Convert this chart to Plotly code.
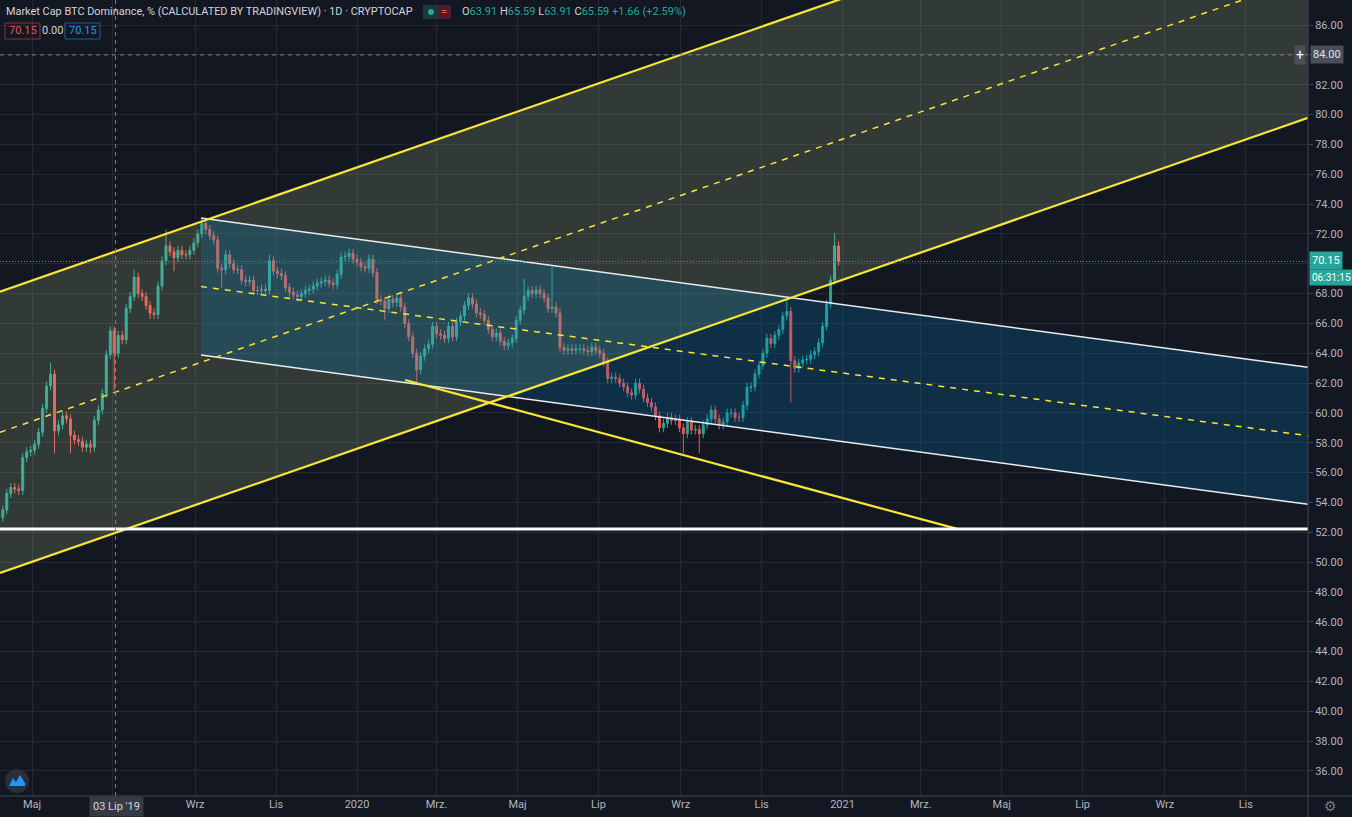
import plotly.graph_objects as go
import pandas as pd

# ---------------- data ----------------
candle_start = "2019-04-09"          # 3-day bars
first_open = 53.0
closes = [
    53.5, 54.6, 55.0, 54.9, 54.8, 57.0, 57.4, 57.5, 57.9, 58.7,
    60.3, 61.8, 62.6, 58.8, 59.2, 59.8, 59.6, 58.5, 58.2, 58.1,
    57.7, 57.9, 57.7, 59.5, 60.2, 61.3, 63.9, 65.5, 64.0, 65.2,
    64.9, 67.0, 67.8, 69.1, 68.0, 67.8, 67.2, 66.7, 66.6, 68.5,
    70.2, 71.2, 70.8, 70.4, 70.9, 70.6, 70.6, 70.9, 71.4, 72.0,
    72.7, 72.3, 71.9, 71.6, 69.7, 69.6, 70.6, 70.0, 69.6, 69.6,
    68.9, 68.8, 68.9, 68.2, 68.2, 68.3, 68.2, 70.2, 69.5, 69.35,
    69.2, 68.4, 68.1, 67.9, 67.8, 68.0, 68.2, 68.3, 68.5, 68.7,
    68.8, 68.9, 68.7, 68.6, 69.3, 70.45, 70.5, 70.7, 70.3, 70.1,
    69.8, 69.7, 70.3, 69.4, 67.6, 67.5, 67.0, 67.6, 67.4, 67.7,
    67.1, 66.0, 65.1, 64.0, 62.9, 63.8, 64.3, 64.6, 65.8, 65.3,
    65.2, 65.0, 65.8, 65.1, 66.1, 66.5, 67.2, 67.7, 67.3, 66.7,
    66.6, 66.2, 65.6, 65.1, 65.35, 64.8, 64.5, 64.7, 65.0, 66.2,
    66.9, 67.8, 68.2, 68.0, 68.25, 68.0, 67.7, 67.0, 67.1, 66.7,
    64.4, 64.2, 64.3, 64.2, 64.3, 64.3, 64.2, 64.1, 64.4, 64.2,
    64.0, 63.4, 62.3, 62.4, 62.3, 62.0, 61.75, 61.35, 61.2, 62.0,
    61.6, 61.0, 60.7, 60.4, 59.8, 59.0, 59.3, 59.7, 59.5, 59.6,
    59.0, 58.6, 59.4, 58.85, 58.9, 58.6, 59.2, 59.6, 60.2, 59.6,
    59.2, 59.4, 60.0, 60.0, 59.7, 59.7, 60.5, 61.7, 61.75, 62.6,
    63.2, 64.0, 65.0, 64.65, 65.2, 65.6, 66.5, 66.8, 63.5, 63.0,
    63.35, 63.55, 63.6, 63.9, 64.1, 64.7, 65.8, 67.3, 68.9, 71.2,
    70.15,
]
default_wick = 0.3
high_spikes = {12: 63.35, 33: 69.6, 41: 72.3, 50: 73.05, 67: 70.6, 117: 68.0,
               131: 69.0, 138: 69.8, 197: 67.6, 209: 72.05}
low_spikes = {13: 57.3, 17: 57.3, 22: 57.3, 28: 61.5, 37: 66.3, 43: 69.5, 55: 68.4,
              96: 66.2, 104: 62.1, 171: 57.3, 175: 57.3, 198: 60.7}

# drawings (date, value) anchors
ych_dates = ["2019-04-06 21:00", "2021-12-17 21:00"]
ych_upper = [68.13, 98.64]
ych_lower = [49.27, 79.78]
ych_mid = [58.70, 89.21]

bch_dates = ["2019-09-05 09:00", "2021-12-17 21:00"]
bch_upper = [73.06, 63.06]
bch_lower = [63.88, 53.87]
bch_mid = [68.47, 58.47]

support_dates = ["2020-02-06 05:00", "2021-03-27 19:00"]
support_vals = [62.21, 52.24]

hline_val = 52.22
last_price = 70.15
cross_date = "2019-07-03"
cross_val = 84.0

x_range = ["2019-04-06 21:00", "2021-12-17 21:00"]
y_range = [34.32, 87.68]

xtick_dates = ["2019-05-01", "2019-07-01", "2019-09-01", "2019-11-01", "2020-01-01",
               "2020-03-01", "2020-05-01", "2020-07-01", "2020-09-01", "2020-11-01",
               "2021-01-01", "2021-03-01", "2021-05-01", "2021-07-01", "2021-09-01",
               "2021-11-01"]
xtick_text = ["Maj", "", "Wrz", "Lis", "2020", "Mrz.", "Maj", "Lip", "Wrz", "Lis",
              "2021", "Mrz.", "Maj", "Lip", "Wrz", "Lis"]
ytick_vals = list(range(36, 88, 2))
ytick_hidden = [70, 84]   # covered by the last-price and crosshair labels

# ---------------- build ----------------
BG = "#131722"
GRID = "#242833"
TXT = "#b2b5be"
UP = "#26a69a"
DN = "#ef5350"
YEL = "#f9e537"

PW, PH = 1308.0, 796.0


def px(x):
    return x / PW


def py(y):
    return 1 - y / PH


dates = pd.date_range(candle_start, periods=len(closes), freq="3D")
opens = [first_open] + closes[:-1]
highs, lows = [], []
for i, (o, c) in enumerate(zip(opens, closes)):
    highs.append(high_spikes.get(i, max(o, c) + default_wick))
    lows.append(low_spikes.get(i, min(o, c) - default_wick))

fig = go.Figure()

fig.add_trace(go.Candlestick(
    x=dates, open=opens, high=highs, low=lows, close=closes,
    increasing=dict(line=dict(color=UP, width=1), fillcolor=UP),
    decreasing=dict(line=dict(color=DN, width=1), fillcolor=DN),
    whiskerwidth=0, hoverinfo="skip", showlegend=False,
))

# yellow channel fill
fig.add_trace(go.Scatter(
    x=ych_dates + ych_dates[::-1], y=ych_upper + ych_lower[::-1],
    fill="toself", fillcolor="rgba(184,213,154,0.19)", line=dict(width=0),
    mode="lines", hoverinfo="skip", showlegend=False))
# blue channel fill
fig.add_trace(go.Scatter(
    x=bch_dates + bch_dates[::-1], y=bch_upper + bch_lower[::-1],
    fill="toself", fillcolor="rgba(0,135,205,0.21)", line=dict(width=0),
    mode="lines", hoverinfo="skip", showlegend=False))


def line(xs, ys, color, width, dash="solid"):
    fig.add_trace(go.Scatter(x=xs, y=ys, mode="lines",
                             line=dict(color=color, width=width, dash=dash),
                             hoverinfo="skip", showlegend=False))


line(bch_dates, bch_upper, "#e8ecf0", 1.5)
line(bch_dates, bch_lower, "#e8ecf0", 1.5)
line(bch_dates, bch_mid, YEL, 1.5, "6px,6px")
line(ych_dates, ych_upper, YEL, 2.2)
line(ych_dates, ych_lower, YEL, 2.2)
line(ych_dates, ych_mid, YEL, 1.5, "6px,6px")
line(support_dates, support_vals, YEL, 2.2)
line(x_range, [hline_val, hline_val], "#ffffff", 3)
line(x_range, [last_price, last_price], UP, 1, "1px,2px")
line(x_range, [cross_val, cross_val], "#758696", 1, "4px,4px")
line([cross_date, cross_date], y_range, "#758696", 1, "4px,4px")

shapes = []
# axis separators
shapes.append(dict(type="line", xref="paper", yref="paper", x0=1, x1=1, y0=py(817), y1=1,
                   line=dict(color="#434651", width=1)))
shapes.append(dict(type="line", xref="paper", yref="paper", x0=0, x1=px(1352), y0=0, y1=0,
                   line=dict(color="#434651", width=1)))
# header pill
shapes.append(dict(type="rect", xref="paper", yref="paper", x0=px(423), x1=px(437),
                   y0=py(19), y1=py(5), fillcolor="#1a3a3a", line=dict(width=0)))
shapes.append(dict(type="rect", xref="paper", yref="paper", x0=px(437), x1=px(451),
                   y0=py(19), y1=py(5), fillcolor="#4a1e33", line=dict(width=0)))
shapes.append(dict(type="circle", xref="paper", yref="paper", x0=px(428), x1=px(434),
                   y0=py(15), y1=py(9), fillcolor=UP, line=dict(width=0)))
# header value boxes
shapes.append(dict(type="rect", xref="paper", yref="paper", x0=px(5), x1=px(40),
                   y0=py(39), y1=py(23), fillcolor="rgba(0,0,0,0)",
                   line=dict(color="#9c2b36", width=1)))
shapes.append(dict(type="rect", xref="paper", yref="paper", x0=px(65), x1=px(100),
                   y0=py(39), y1=py(23), fillcolor="rgba(0,0,0,0)",
                   line=dict(color="#1c5e9a", width=1)))
# logo circle
shapes.append(dict(type="circle", xref="paper", yref="paper", x0=px(5), x1=px(29),
                   y0=py(793), y1=py(769), fillcolor="#2a2e39", line=dict(width=0)))


def pp(pts):
    return "M " + " L ".join(f"{px(a):.5f},{py(b):.5f}" for a, b in pts) + " Z"


shapes.append(dict(type="path", xref="paper", yref="paper",
                   path=pp([(9, 786), (13, 778), (16, 782), (20, 775), (25, 783), (25, 786)]),
                   fillcolor="#2196f3", line=dict(width=0)))

ann = []


def text(x, y, s, size=11, color=TXT, xa="left", ya="middle", bg=None, family="Roboto", pad=1):
    d = dict(x=px(x), y=py(y), xref="paper", yref="paper", text=s, showarrow=False,
             xanchor=xa, yanchor=ya, font=dict(size=size, color=color, family=family))
    if bg:
        d.update(bgcolor=bg, borderpad=pad)
    ann.append(d)


text(4, 12, "Market Cap BTC Dominance, % (CALCULATED BY TRADINGVIEW) · 1D · CRYPTOCAP",
     size=10.9, color="#d1d4dc")
text(444, 11.5, "=", size=11, color="#ef5350", xa="center")
lbl = "#d1d4dc"
ohlc = (f"<span style='color:{lbl}'>O</span><span style='color:{UP}'>63.91</span> "
        f"<span style='color:{lbl}'>H</span><span style='color:{UP}'>65.59</span> "
        f"<span style='color:{lbl}'>L</span><span style='color:{UP}'>63.91</span> "
        f"<span style='color:{lbl}'>C</span><span style='color:{UP}'>65.59</span> "
        f"<span style='color:{UP}'>+1.66 (+2.59%)</span>")
text(460, 12, ohlc, size=11)
text(22.5, 31, "70.15", size=11, color="#ef5350", xa="center")
text(52.5, 31, "0.00", size=11, color="#d1d4dc", xa="center")
text(82.5, 31, "70.15", size=11, color="#2196f3", xa="center")

# price axis labels
text(1309, 261, "70.15", size=11, color="#ffffff", bg=UP, pad=2)
text(1309, 277.5, "06:31:15", size=10, color="#ffffff", bg=UP, pad=2)
text(1310, 54.5, "84.00", size=11, color="#e0e3eb", bg="#4a4e59", pad=2)
text(1300, 54.5, "+", size=14, color="#ffffff", xa="center", bg="#4a4e59", pad=1)
# time axis crosshair label
text(116, 806, "03 Lip '19", size=11, color="#d1d4dc", xa="center", bg="#363a45", pad=3)
# gear
text(1330, 806, "⚙", size=14, color="#787b86", xa="center", family="DejaVu Sans")

fig.update_layout(
    width=1352, height=817,
    margin=dict(l=0, r=1352 - 1308, t=0, b=817 - 796),
    paper_bgcolor=BG, plot_bgcolor=BG,
    font=dict(family="Roboto", size=11, color=TXT),
    showlegend=False,
    shapes=shapes,
    annotations=ann,
    xaxis=dict(range=x_range, type="date", tickmode="array", tickvals=xtick_dates,
               ticktext=xtick_text, showgrid=True, gridcolor=GRID, gridwidth=1,
               zeroline=False, showline=False, ticks="", rangeslider=dict(visible=False),
               tickfont=dict(size=11, color=TXT), fixedrange=True),
    yaxis=dict(range=y_range, side="right", tickmode="array", tickvals=ytick_vals,
               ticktext=["" if v in ytick_hidden else f"{v:.2f}" for v in ytick_vals],
               showgrid=True, gridcolor=GRID,
               gridwidth=1, zeroline=False, showline=False, ticks="outside", ticklen=4,
               tickcolor="#434651", tickfont=dict(size=11, color=TXT), fixedrange=True),
)

fig.write_html("out.html", config={"displayModeBar": False},
               post_script="document.body.style.margin='0px';document.body.style.background='#131722';")
